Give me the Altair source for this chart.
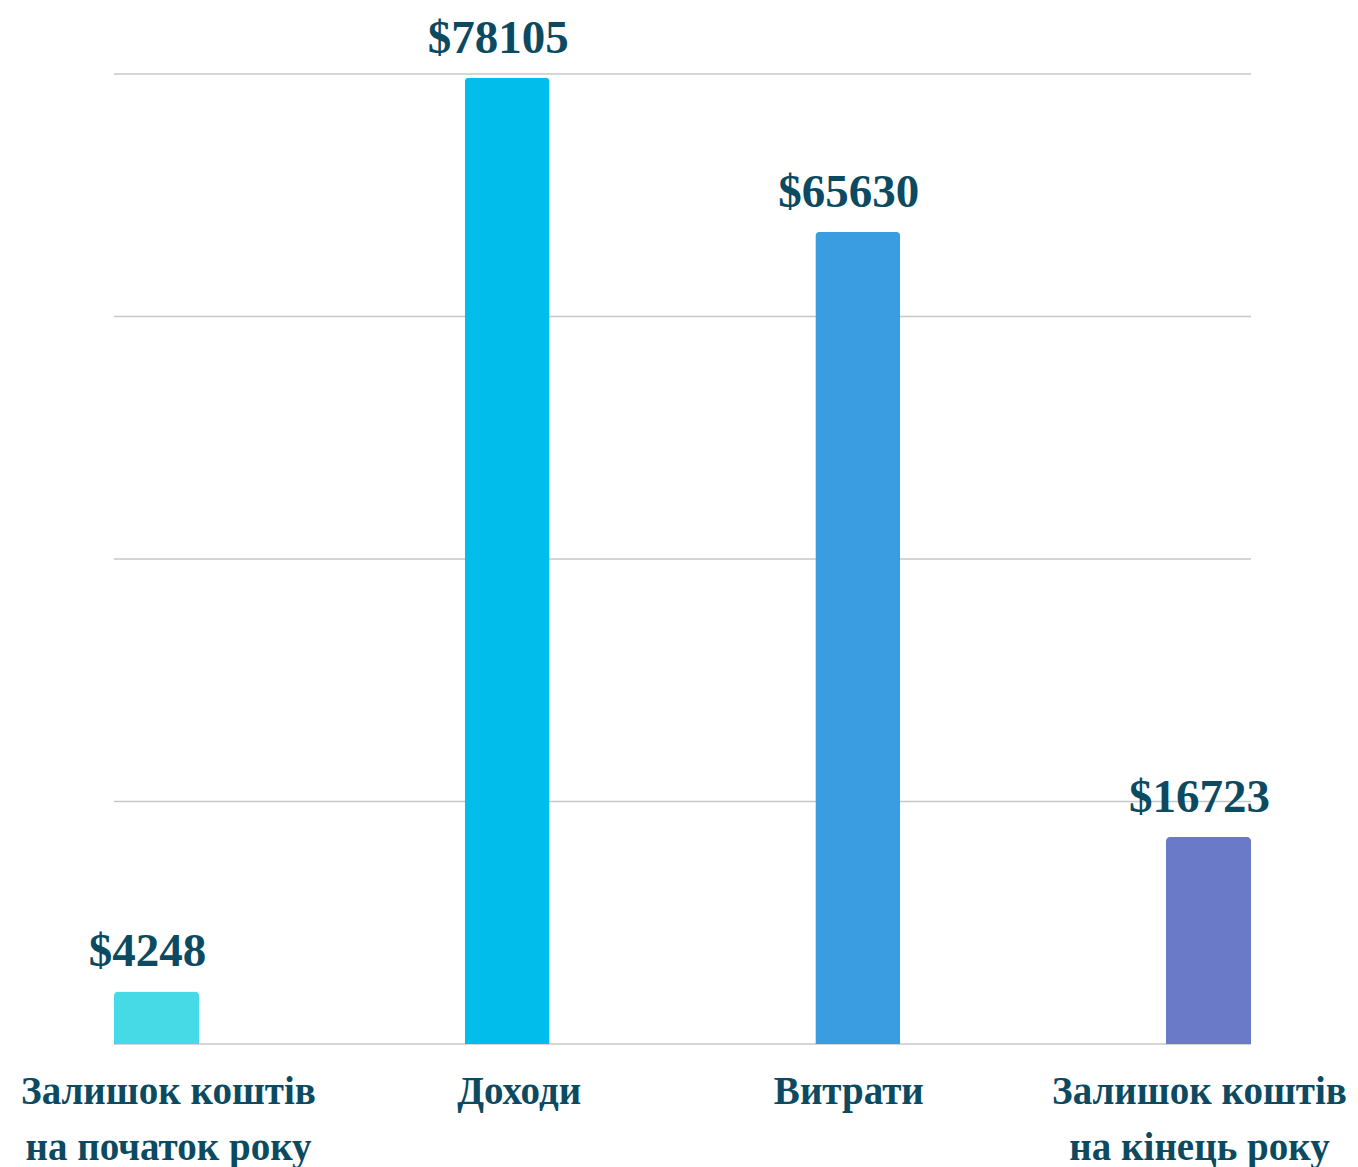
import altair as alt
import pandas as pd

categories = ["Залишок коштів\nна початок року", "Доходи", "Витрати", "Залишок коштів\nна кінець року"]
values = [4248, 78105, 65630, 16723]
labels = ["$4248", "$78105", "$65630", "$16723"]
colors = ["#45dae6", "#00bdec", "#3a9de2", "#6a7ac9"]
grid_values = [0, 19600, 39200, 58800, 78400]

df = pd.DataFrame({
    "idx": list(range(len(categories))),
    "cat": categories,
    "value": values,
    "label": labels,
    "color": colors,
})

W, H = 1137, 970
TXT = "#0c4a62"
FONT = "Liberation Serif"

x = alt.X("idx:Q", scale=alt.Scale(domain=[-0.1212, 3.1212], nice=False, zero=False, padding=0), axis=None)
yscale = alt.Scale(domain=[0, 78400], nice=False)

grid = alt.Chart(pd.DataFrame({"g": grid_values})).mark_rule(color="#c8c8c8", strokeWidth=1.5).encode(
    y=alt.Y("g:Q", scale=yscale, axis=None)
)

bars = alt.Chart(df).mark_bar(width=85, cornerRadiusTopLeft=4, cornerRadiusTopRight=4).encode(
    x=x,
    y=alt.Y("value:Q", scale=yscale, axis=None),
    color=alt.Color("color:N", scale=None),
)

vals = alt.Chart(df).mark_text(
    font=FONT, fontWeight="bold", fontSize=47, color=TXT, baseline="alphabetic", dy=-25, dx=-9
).encode(
    x=x,
    y=alt.Y("value:Q", scale=yscale, axis=None),
    text="label:N",
)

def cat_layer(dx, cond):
    return alt.Chart(df).transform_filter(cond).mark_text(
        font=FONT, fontWeight="bold", fontSize=39, color=TXT, baseline="alphabetic",
        lineBreak="\n", lineHeight=56, align="center", dx=dx
    ).encode(
        x=x,
        y=alt.value(H + 60),
        text="cat:N",
    )

cats_left = cat_layer(12, alt.datum.idx < 2)
cats_right = cat_layer(-9, alt.datum.idx >= 2)

chart = alt.layer(grid, bars, vals, cats_left, cats_right).properties(
    width=W, height=H,
    autosize=alt.AutoSizeParams(type="none"),
    padding={"left": 106, "top": 66, "right": 99, "bottom": 150},
).configure_view(stroke=None)

chart.save("out.html", embed_options={"renderer": "svg", "actions": False})
